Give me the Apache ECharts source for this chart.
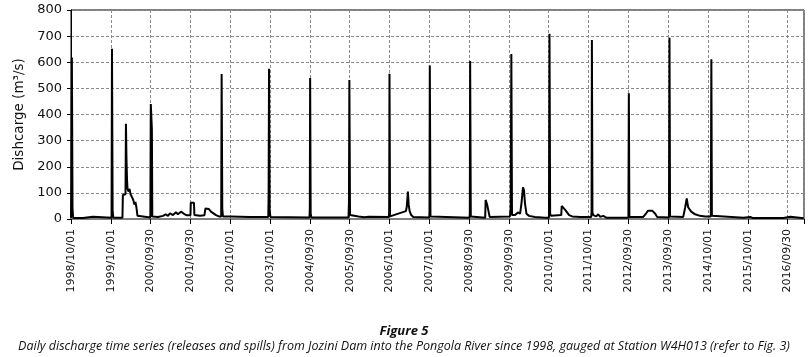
<!DOCTYPE html>
<html>
<head>
<meta charset="utf-8">
<script src="https://cdn.jsdelivr.net/npm/echarts@6/dist/echarts.min.js"></script>
<style>html,body{margin:0;padding:0;background:#fff}#chart{width:808px;height:357px}</style>
</head>
<body>
<div id="chart"></div>
<script>
// Tick labels (one every 365.25 days from 1998/10/01)
const tickLabels = ['1998/10/01','1999/10/01','2000/09/30','2001/09/30','2002/10/01','2003/10/01','2004/09/30','2005/09/30','2006/10/01','2007/10/01','2008/09/30','2009/09/30','2010/10/01','2011/10/01','2012/09/30','2013/09/30','2014/10/01','2015/10/01','2016/09/30'];

// Daily discharge key readings (date, m3/s)
const dates = [
'1998-10-01','1998-10-04','1998-10-09','1998-10-15','1998-10-21','1999-01-19','1999-01-20','1999-04-20','1999-04-25','1999-10-08','1999-10-12','1999-10-18','1999-10-24',
'2000-01-16','2000-01-20','2000-02-13','2000-02-17','2000-02-22','2000-02-27','2000-03-02','2000-03-11','2000-03-21','2000-03-30','2000-04-08','2000-04-17','2000-04-26','2000-05-05','2000-05-14','2000-05-23','2000-06-02','2000-06-16',
'2000-09-28','2000-10-02','2000-10-12','2000-10-16','2000-10-25','2000-12-07','2001-01-22','2001-02-16','2001-03-09','2001-03-27','2001-04-23','2001-05-21','2001-06-08','2001-07-06','2001-08-02','2001-08-30',
'2001-10-01','2001-10-04','2001-11-02','2001-11-06','2001-12-27','2002-02-06','2002-02-15','2002-03-01','2002-03-19','2002-04-07','2002-04-25','2002-05-23','2002-06-19',
'2002-07-10','2002-07-14','2002-07-20','2002-07-26','2002-10-01','2003-04-01','2003-09-15','2003-09-18','2003-09-22','2003-09-28','2003-10-05',
'2004-04-01','2004-09-27','2004-09-30','2004-10-03','2004-10-08','2004-10-14','2005-09-20','2005-09-24','2005-09-28','2005-10-04','2005-10-10','2005-12-20','2006-02-10','2006-03-25',
'2006-09-25','2006-09-28','2006-10-01','2006-10-06','2006-10-12','2007-02-28','2007-03-08','2007-03-19','2007-03-26','2007-04-04','2007-04-18','2007-05-07',
'2007-10-01','2007-10-03','2007-10-06','2007-10-12','2007-10-18','2008-10-04','2008-10-07','2008-10-10','2008-10-16','2008-10-22',
'2009-02-25','2009-03-01','2009-03-15','2009-03-29','2009-04-07','2009-10-10','2009-10-17','2009-10-23','2009-10-29',
'2009-11-26','2009-12-23','2010-01-11','2010-01-24','2010-02-07','2010-02-16','2010-02-25','2010-03-11','2010-04-03','2010-05-28','2010-08-28',
'2010-10-03','2010-10-08','2010-10-14','2010-10-22','2011-01-24','2011-01-28','2011-02-06','2011-02-15','2011-03-01','2011-03-19','2011-04-06','2011-05-04','2011-07-16','2011-09-28',
'2011-10-26','2011-10-29','2011-11-01','2011-11-06','2011-11-13','2011-11-27','2011-12-11','2011-12-29','2012-01-17','2012-02-13','2012-03-12','2012-06-03',
'2012-10-01','2012-10-05','2012-10-10','2013-02-14','2013-03-13','2013-03-31','2013-05-07','2013-06-04','2013-06-22',
'2013-10-08','2013-10-13','2013-10-18','2014-02-16','2014-03-06','2014-03-20','2014-04-02','2014-04-30','2014-06-05','2014-07-20','2014-09-05',
'2014-10-27','2014-11-01','2014-11-06','2014-11-12','2015-08-22','2015-09-09','2015-10-24','2015-11-12','2016-08-23','2016-09-10','2016-10-26','2016-11-13','2017-02-26'
];
const discharge = [
5,130,618,40,4,4,9,9,5,5,652,30,5,
5,92,95,365,230,150,118,105,115,95,100,80,70,55,65,45,12,6,
6,440,345,10,8,8,12,18,12,22,15,26,18,28,20,14,
14,62,62,15,12,14,40,35,38,28,25,15,10,
10,555,40,10,10,8,8,95,575,30,8,
7,6,40,540,20,6,6,60,532,15,8,10,7,9,
8,28,556,10,5,30,45,105,55,30,15,8,
6,30,588,10,5,5,20,605,10,5,
5,73,55,50,8,10,45,632,15,
15,25,20,60,121,110,60,20,12,8,5,
5,709,20,12,15,50,57,52,35,30,15,10,8,8,
8,30,685,25,15,22,10,18,8,12,5,5,
5,481,8,8,22,32,32,20,8,
6,694,10,8,45,79,45,28,18,12,10,
10,611,12,5,5,9,8,4,4,9,9,4,3
];

const t0 = Date.UTC(1998, 9, 1);
function toDay(s) {
  const p = s.split('-').map(Number);
  return (Date.UTC(p[0], p[1] - 1, p[2]) - t0) / 86400000;
}
const seriesData = dates.map((d, i) => [toDay(d), discharge[i]]);
const STEP = 365.25;

const chart = echarts.init(document.getElementById('chart'), null, {renderer: 'canvas'});
chart.setOption({
  animation: false,
  backgroundColor: '#fff',
  grid: {left: 71, right: 4, top: 10, bottom: 138, show: true, borderColor: '#000', borderWidth: 1},
  xAxis: {
    type: 'value', min: 0, max: 6725, interval: STEP,
    axisLine: {show: true, onZero: false, lineStyle: {color: '#808080', width: 2}},
    axisTick: {show: true, length: 5, lineStyle: {color: '#000'}},
    splitLine: {show: true, lineStyle: {color: '#8a8a8a', type: [3, 2], width: 1}},
    axisLabel: {
      rotate: 90, margin: 10, color: '#111', fontFamily: 'DejaVu Sans', fontSize: 11,
      formatter: function (v) {
        const k = Math.round(v / STEP);
        return Math.abs(v - k * STEP) < 0.01 && tickLabels[k] ? tickLabels[k] : '';
      }
    }
  },
  yAxis: {
    type: 'value', min: 0, max: 800, interval: 100,
    name: 'Dishcarge (m³/s)', nameLocation: 'middle', nameGap: 43,
    nameTextStyle: {fontFamily: 'DejaVu Sans', fontSize: 13.5, color: '#111'},
    axisLine: {show: true, lineStyle: {color: '#000', width: 1}},
    axisTick: {show: true, length: 4, lineStyle: {color: '#000'}},
    splitLine: {show: true, lineStyle: {color: '#8a8a8a', type: [3, 2], width: 1}},
    axisLabel: {margin: 9, color: '#111', fontFamily: 'DejaVu Sans', fontSize: 13}
  },
  series: [{
    type: 'line', data: seriesData, showSymbol: false, symbol: 'none',
    lineStyle: {color: '#000', width: 2}, z: 3
  }],
  graphic: [
    {type: 'text', left: 'center', top: 325, style: {text: 'Figure 5', font: 'italic bold 13px "Open Sans"', fill: '#111'}},
    {type: 'text', left: 'center', top: 340, style: {text: 'Daily discharge time series (releases and spills) from Jozini Dam into the Pongola River since 1998, gauged at Station W4H013 (refer to Fig. 3)', font: 'italic 12.5px "Open Sans"', fill: '#111'}}
  ]
});
</script>
</body>
</html>
